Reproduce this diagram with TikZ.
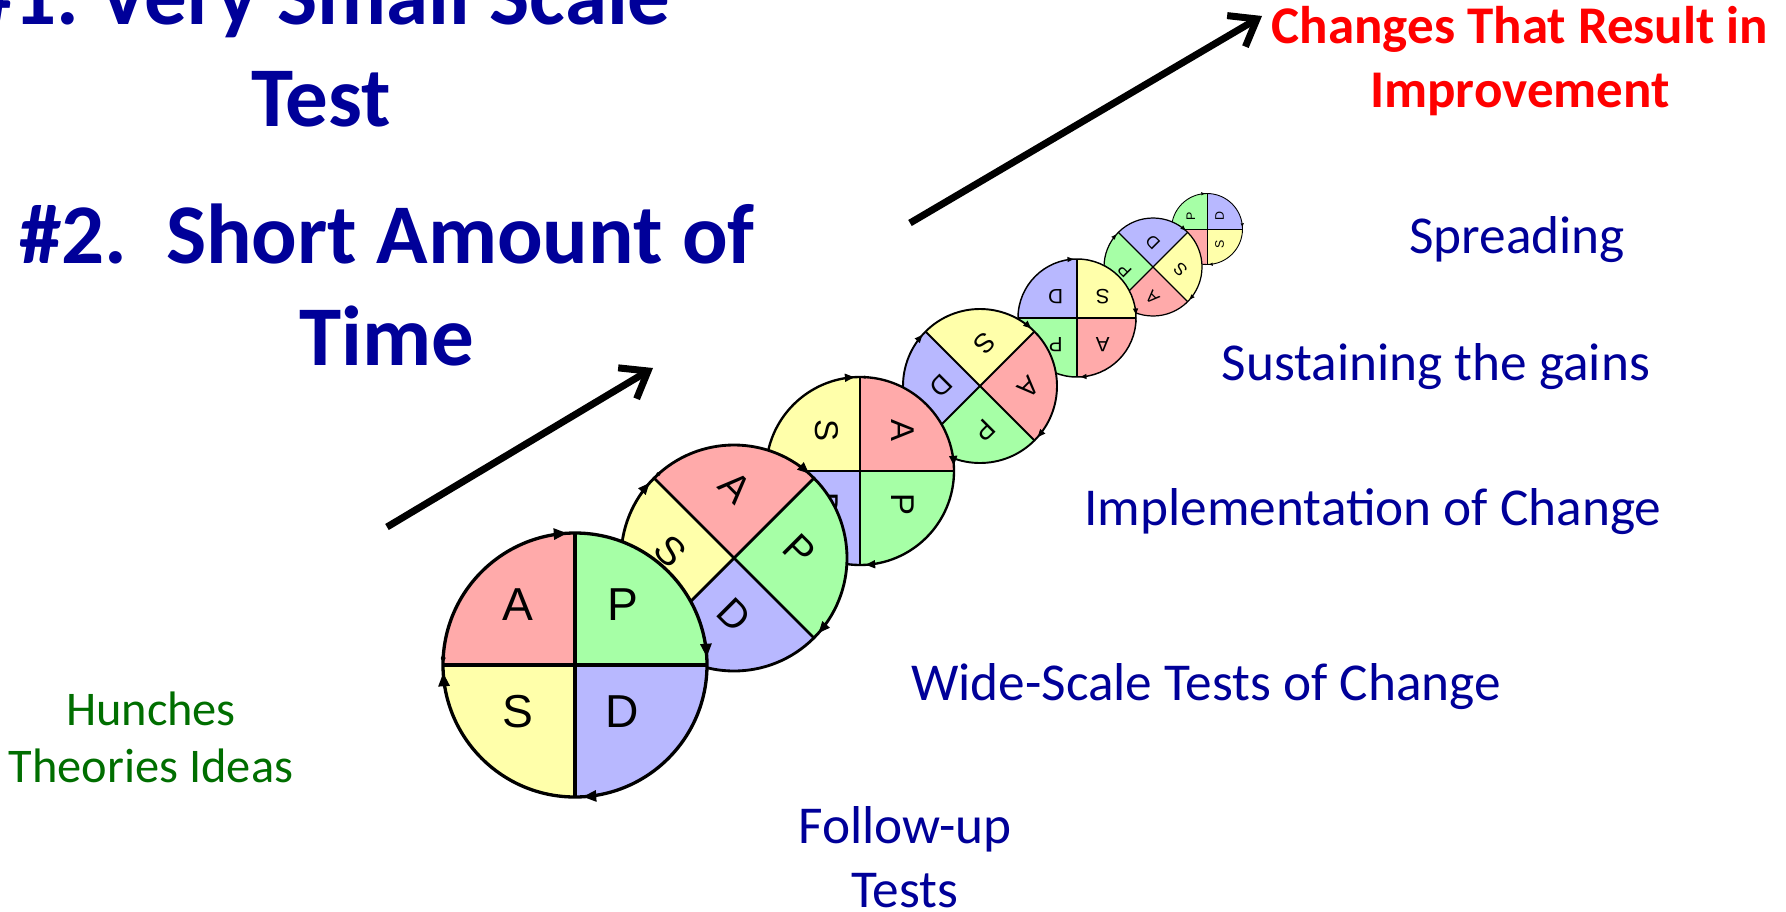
\documentclass[tikz,border=0pt]{standalone}
\usepackage{fontspec}
\setmainfont{Carlito}
\newfontfamily\arialf{Liberation Sans}
\usetikzlibrary{arrows.meta}
\definecolor{pinkq}{RGB}{255,170,170}
\definecolor{greenq}{RGB}{166,255,166}
\definecolor{blueq}{RGB}{184,184,255}
\definecolor{yellowq}{RGB}{255,255,170}
\definecolor{titleblue}{RGB}{0,0,153}
\definecolor{labelgreen}{RGB}{0,110,0}
\definecolor{redtext}{RGB}{255,0,0}
\frenchspacing
\newcommand\pdsacycle[5]{%
\begin{scope}[shift={(#2,#3)}, y=1pt, rotate=#5]
 \pgfmathsetmacro\rr{#4}
 \pgfmathsetmacro\lw{0.025*#4}
 \pgfmathsetmacro\fs{0.35*#4}
 \fill[pinkq] (0,0) -- (90:\rr) arc[start angle=90, end angle=180, radius=\rr] -- cycle;
 \fill[greenq] (0,0) -- (0:\rr) arc[start angle=0, end angle=90, radius=\rr] -- cycle;
 \fill[blueq] (0,0) -- (270:\rr) arc[start angle=270, end angle=360, radius=\rr] -- cycle;
 \fill[yellowq] (0,0) -- (180:\rr) arc[start angle=180, end angle=270, radius=\rr] -- cycle;
 \draw[line width=\lw pt] (-\rr,0) -- (\rr,0) (0,-\rr) -- (0,\rr);
 \draw[line width=\lw pt] (0,0) circle[radius=\rr];
 \foreach \a in {93.5,3.5,-86.5,183.5} {
   \fill[rotate=\a] (\rr,0) -- ++(0.045*\rr, 0.1*\rr) -- ++(-0.09*\rr,0) -- cycle;
 }
 \fill (177:\rr) circle[radius=0.018*\rr];
 \node[letter, rotate=#5, font=\arialf\fontsize{\fs}{\fs}\selectfont] (#1A) at (-0.435*\rr, 0.455*\rr) {A};
 \node[letter, rotate=#5, font=\arialf\fontsize{\fs}{\fs}\selectfont] (#1P) at (0.36*\rr, 0.455*\rr) {P};
 \node[letter, rotate=#5, font=\arialf\fontsize{\fs}{\fs}\selectfont] (#1S) at (-0.435*\rr, -0.355*\rr) {S};
 \node[letter, rotate=#5, font=\arialf\fontsize{\fs}{\fs}\selectfont] (#1D) at (0.36*\rr, -0.355*\rr) {D};
\end{scope}}
\begin{document}
\begin{tikzpicture}[x=1pt,y=-1pt,
  letter/.style={inner sep=0pt},
  bigtitle/.style={inner sep=0pt, anchor=base, align=center, text=titleblue, font=\bfseries\fontsize{85}{102}\selectfont},
  redtitle/.style={inner sep=0pt, anchor=base, align=center, text=redtext, font=\bfseries\fontsize{53}{64}\selectfont},
  phase/.style={inner sep=0pt, anchor=base, align=center, text=titleblue, font=\fontsize{53.3}{64}\selectfont},
  idea/.style={inner sep=0pt, anchor=base, align=center, text=labelgreen, font=\fontsize{48.4}{57}\selectfont},
  bigarrow/.style={line width=7pt, -{Straight Barb[length=24pt, width=36pt]}}]
\useasboundingbox (0,0) rectangle (1786,911);
\fill[white] (0,0) rectangle (1786,911);
% cycles, back to front
\pdsacycle{c7}{1207}{229}{35.5}{-270}
\pdsacycle{c6}{1153}{267}{49}{-225}
\pdsacycle{c5}{1077}{318}{59}{-180}
\pdsacycle{c4}{980}{386}{77}{-135}
\pdsacycle{c3}{860}{471}{94}{-90}
\pdsacycle{c2}{734}{558}{113}{-45}
\pdsacycle{c1}{575}{665}{132}{0}
% arrows
\coordinate (a1s) at (387,527);
\coordinate (a1e) at (653,368);
\coordinate (a2s) at (910,223);
\coordinate (a2e) at (1262,16);
\draw[bigarrow] (a1s) -- (a1e);
\draw[bigarrow] (a2s) -- (a2e);
% texts (anchor base = baseline of the last line)
\node[bigtitle] (t1) at (321,126) {\#1. Very Small Scale\\Test};
\node[bigtitle] (t2) at (387,365) {\#2.\ \ Short Amount of\\Time};
\node[redtitle] (res) at (1520,107) {Changes That Result in\\Improvement};
\node[idea] (hunch) at (151,782) {Hunches\\Theories Ideas};
\node[phase] (follow) at (905,907) {Follow-up\\Tests};
\node[phase] (wide) at (1206,700) {Wide-Scale Tests of Change};
\node[phase] (impl) at (1373,525) {Implementation of Change};
\node[phase] (sust) at (1436,380) {Sustaining the gains};
\node[phase] (spread) at (1517,253) {Spreading};
\end{tikzpicture}
\end{document}
